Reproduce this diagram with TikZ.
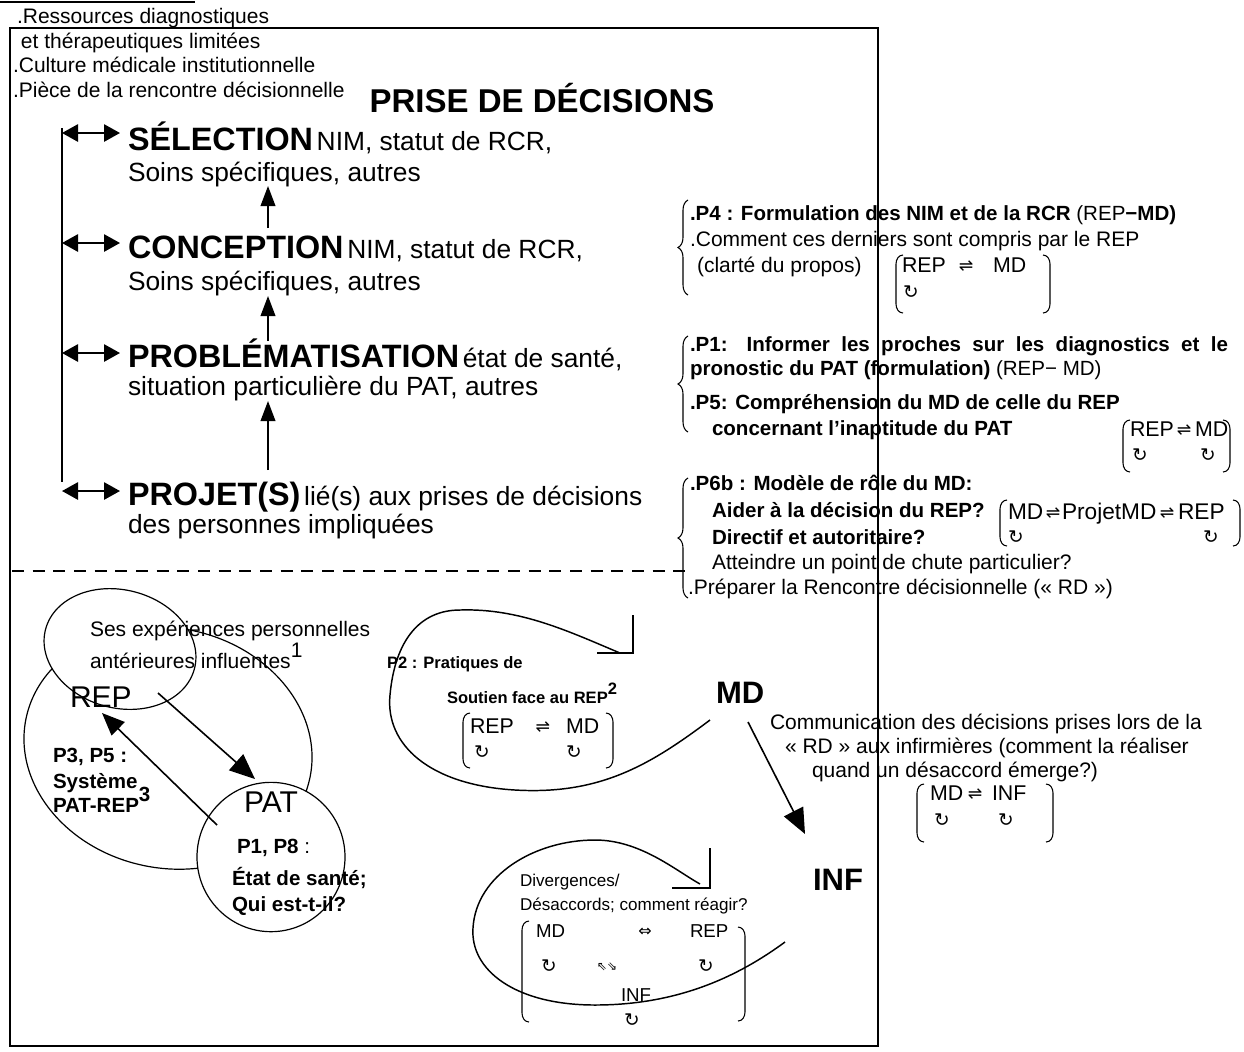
\documentclass[tikz,border=0pt]{standalone}
\usepackage{fontspec}
\setmainfont{Liberation Sans}
\newfontfamily\symfont{DejaVu Sans}
\usetikzlibrary{arrows.meta,decorations.pathreplacing}

% type sizes (1 unit of the picture = 0.75pt)
\newcommand\fTitle{\fontsize{24.75pt}{28pt}\selectfont\bfseries}
\newcommand\fLab{\fontsize{24.25pt}{27pt}\selectfont\bfseries}
\newcommand\fDesc{\fontsize{19.75pt}{23pt}\selectfont}
\newcommand\fTxt{\fontsize{15.75pt}{18pt}\selectfont}
\newcommand\fTxb{\fontsize{15.4pt}{18pt}\selectfont\bfseries}
\newcommand\fMat{\fontsize{16pt}{19pt}\selectfont}
\newcommand\fMatL{\fontsize{17pt}{20pt}\selectfont}
\newcommand\fSmb{\fontsize{12.4pt}{15pt}\selectfont\bfseries}
\newcommand\fSmr{\fontsize{12.8pt}{15pt}\selectfont}
\newcommand\fBigR{\fontsize{22.5pt}{26pt}\selectfont}
\newcommand\fBigB{\fontsize{23.25pt}{26pt}\selectfont\bfseries}
\newcommand\fMsm{\fontsize{14pt}{17pt}\selectfont}
% symbols
\newcommand\loopsym{{\symfont\fontsize{14pt}{15pt}\selectfont ↻}}
\newcommand\harp{{\symfont\fontsize{13pt}{14pt}\selectfont ⇌}}
\newcommand\supmark[1]{\raisebox{0.5em}{#1}}

% matrix brackets: x, top y, bottom y
\newcommand\bracketL[3]{\draw[brk] (#1+7,#2) to[out=180,in=90] (#1,#2+9) -- (#1,#3-9) to[out=-90,in=180] (#1+7,#3);}
\newcommand\bracketR[3]{\draw[brk] (#1-7,#2) to[out=0,in=90] (#1,#2+9) -- (#1,#3-9) to[out=-90,in=0] (#1-7,#3);}

\begin{document}
\begin{tikzpicture}[x=0.75pt,y=-0.75pt,
  every node/.style={inner sep=0pt,outer sep=0pt,anchor=base west},
  txt/.style={font=\fTxt}, txb/.style={font=\fTxb}, desc/.style={font=\fDesc},
  mat/.style={font=\fMat}, matl/.style={font=\fMatL}, smb/.style={font=\fSmb}, smr/.style={font=\fSmr},
  bigr/.style={font=\fBigR}, bigb/.style={font=\fBigB}, msm/.style={font=\fMsm},
  sym/.style={anchor=base},
  frame/.style={line width=1.9pt},
  dbl/.style={line width=1.3pt,{Triangle[length=12pt,width=13pt]}-{Triangle[length=12pt,width=13pt]}},
  up/.style={line width=1.3pt,-{Triangle[length=15pt,width=11pt]}},
  bigarrow/.style={line width=1.2pt,-{Triangle[length=19pt,width=16pt]}},
  ell/.style={line width=0.9pt},
  brk/.style={line width=0.8pt},
  brc/.style={line width=0.8pt,decorate,decoration={brace,amplitude=7.5pt}},
  bub/.style={line width=1.1pt},
]
\useasboundingbox (0,0) rectangle (1244,1051);

% ---------- frame ----------
\draw[line width=2.2pt] (0,2) -- (195,2);
\draw[frame] (10,1046) -- (10,28) -- (878,28) -- (878,1046) -- cycle;
\draw[frame, dash pattern=on 9pt off 6.5pt] (12,571) -- (690,571);

% ---------- context ----------
\node[txt] (r1) at (17,23) {.Ressources diagnostiques};
\node[txt] (r2) at (21,48) {et thérapeutiques limitées};
\node[txt] (r3) at (13,72) {.Culture médicale institutionnelle};
\node[txt] (r4) at (13,97) {.Pièce de la rencontre décisionnelle};
\node[font=\fTitle, anchor=base] (title) at (542,112) {PRISE DE DÉCISIONS};

% ---------- decision stages ----------
\node (s1) at (128,150) {{\fLab SÉLECTION} {\fDesc NIM, statut de RCR,}};
\node[desc] (s1b) at (128,181) {Soins spécifiques, autres};
\node (s2) at (128,258) {{\fLab CONCEPTION} {\fDesc NIM, statut de RCR,}};
\node[desc] (s2b) at (128,290) {Soins spécifiques, autres};
\node (s3) at (128,367) {{\fLab PROBLÉMATISATION} {\fDesc état de santé,}};
\node[desc] (s3b) at (128,395) {situation particulière du PAT, autres};
\node (s4) at (128,505) {{\fLab PROJET(S)} {\fDesc lié(s) aux prises de décisions}};
\node[desc] (s4b) at (128,533) {des personnes impliquées};

\coordinate (v1) at (62,133);
\coordinate (v2) at (62,243);
\coordinate (v3) at (62,353);
\coordinate (v4) at (62,491);
\draw[line width=1.3pt] (62,128) -- (62,482);
\foreach \v/\s in {v1/s1,v2/s2,v3/s3,v4/s4}
  \draw[dbl, shorten >=6pt] (\v) -- (\v -| \s.west);

\coordinate (u1a) at (268,228); \coordinate (u1b) at (268,186);
\coordinate (u2a) at (268,341); \coordinate (u2b) at (268,296);
\coordinate (u3a) at (268,470); \coordinate (u3b) at (268,401);
\draw[up] (u1a) -- (u1b);
\draw[up] (u2a) -- (u2b);
\draw[up] (u3a) -- (u3b);

% ---------- stage notes ----------
\draw[brc] (688,295) -- (688,200);
\node[txb] (p4) at (690,220) {.P4 : Formulation des NIM et de la RCR {\mdseries(REP}−MD)};
\node[txt] (p4b) at (690,246) {.Comment ces derniers sont compris par le REP};
\node[txt] (p4c) at (697,272) {(clarté du propos)};
\node[mat] (m1a) at (902,272) {REP};
\node[sym] (m1s) at (966,271) {\harp};
\node[mat] (m1c) at (993,272) {MD};
\node (m1b) at (903,298) {\loopsym};
\bracketL{896}{255}{313}
\bracketR{1050}{255}{313}

\draw[brc] (688,432) -- (688,336);
\node[txb] (p1) at (690,351) {\makebox[403.5pt][s]{.P1: Informer les proches sur les diagnostics et le}};
\node[txb] (p1b) at (690,375) {pronostic du PAT (formulation) {\mdseries(REP− MD)}};
\node[txb] (p5) at (690,409) {.P5: Compréhension du MD de celle du REP};
\node[txb] (p5b) at (712,435) {concernant l’inaptitude du PAT};
\node[mat] (m2a) at (1130,436) {REP};
\node[sym] (m2s) at (1184,435) {\harp};
\node[mat] (m2c) at (1195,436) {MD};
\node (m2b) at (1132,461) {\loopsym};
\node (m2d) at (1200,461) {\loopsym};
\bracketL{1123}{420}{472}
\bracketR{1230}{420}{472}

\draw[brc] (688,598) -- (688,478);
\node[txb] (p6) at (690,490) {.P6b : Modèle de rôle du MD:};
\node[txb] (p6b) at (712,517) {Aider à la décision du REP?};
\node[txb] (p6c) at (712,544) {Directif et autoritaire?};
\node[txt] (p6d) at (712,569) {Atteindre un point de chute particulier?};
\node[txt] (p6e) at (688,594) {.Préparer la Rencontre décisionnelle (« RD »)};
\node[matl] (m3a) at (1008,519) {MD};
\node[sym] (m3s1) at (1053,518) {\harp};
\node[matl] (m3b) at (1062,519) {ProjetMD};
\node[sym] (m3s2) at (1167,518) {\harp};
\node[matl] (m3c) at (1178,519) {REP};
\node (m3d) at (1008,543) {\loopsym};
\node (m3e) at (1203,543) {\loopsym};
\bracketL{1000}{500}{546}
\bracketR{1240}{500}{546}

% ---------- REP / PAT system ----------
\draw[ell, rotate around={-12:(168,748)}] (168,748) ellipse [x radius=108.75pt, y radius=90pt];
\draw[ell, fill=white, rotate around={-15:(120,649)}] (120,649) ellipse [x radius=57.75pt, y radius=44.25pt];
\draw[ell, fill=white] (271,857) ellipse [x radius=55.5pt, y radius=56pt];

\node[txt] (exp1) at (90,636) {Ses expériences personnelles};
\node[txt] (exp2) at (90,668) {antérieures influentes\supmark{1}};
\node[bigr] (rep) at (70,707) {REP};
\node[txb] (sys1) at (53,762) {P3, P5 :};
\node[txb] (sys2) at (53,788) {Système};
\node[txb] (sys3) at (53,812) {PAT-REP\supmark{3}};
\node[bigr] (pat) at (244,812) {PAT};
\node[txb] (pat1) at (237,853) {P1, P8 {\mdseries:}};
\node[txb] (pat2) at (232,885) {État de santé;};
\node[txb] (pat3) at (232,911) {Qui est-t-il?};

\coordinate (rp1) at (158,693); \coordinate (rp2) at (255,779);
\coordinate (pr1) at (217,825); \coordinate (pr2) at (102,713);
\draw[bigarrow] (rp1) -- (rp2);
\draw[line width=1.2pt,-{Triangle[length=17pt,width=14pt]}] (pr1) -- (pr2);

% ---------- MD ----------
\node[bigb] (md) at (716,703) {MD};
\draw[bub] (710,720) .. controls (650,765) and (600,795) .. (515,790)
           .. controls (430,785) and (385,745) .. (390,695)
           .. controls (395,640) and (420,610) .. (460,610)
           .. controls (520,608) and (570,632) .. (620,653);
\draw[bub] (597,653) -- (633,653) -- (633,615);
\node[smb] (p2) at (387,668) {P2 : Pratiques de};
\node[smb] (p2b) at (447,703) {Soutien face au REP\supmark{2}};
\node[mat] (m4a) at (470,733) {REP};
\node[sym] (m4s) at (543,732) {\harp};
\node[mat] (m4c) at (566,733) {MD};
\node (m4b) at (474,758) {\loopsym};
\node (m4d) at (566,758) {\loopsym};
\bracketL{463}{713}{768}
\bracketR{613}{713}{768}

\coordinate (mi1) at (748,722); \coordinate (mi2) at (805,834);
\draw[bigarrow] (mi1) -- (mi2);

\node[txt] (c1) at (770,729) {Communication des décisions prises lors de la};
\node[txt] (c2) at (785,753) {« RD » aux infirmières (comment la réaliser};
\node[txt] (c3) at (812,777) {quand un désaccord émerge?)};
\node[mat] (m5a) at (930,800) {MD};
\node[sym] (m5s) at (975,799) {\harp};
\node[mat] (m5c) at (992,800) {INF};
\node (m5b) at (934,826) {\loopsym};
\node (m5d) at (998,826) {\loopsym};
\bracketL{917}{784}{842}
\bracketR{1053}{784}{842}

% ---------- INF ----------
\node[bigb] (inf) at (813,890) {INF};
\draw[bub] (785,942) .. controls (740,975) and (680,1005) .. (595,1005)
           .. controls (515,1005) and (470,970) .. (473,928)
           .. controls (476,875) and (535,840) .. (595,840)
           .. controls (640,840) and (675,870) .. (700,884);
\draw[bub] (672,888) -- (710,888) -- (710,848);
\node[smr] (dv1) at (520,886) {Divergences/};
\node[smr] (dv2) at (520,910) {Désaccords; comment réagir?};
\node[msm] (dmd) at (536,937) {MD};
\node[sym] (dlr) at (645,936) {{\symfont\fontsize{12pt}{13pt}\selectfont ⇔}};
\node[msm] (drep) at (690,937) {REP};
\node (dc1) at (541,972) {\loopsym};
\node[sym] (dar) at (607,970) {{\symfont\fontsize{9pt}{10pt}\selectfont ⇖⇘}};
\node (dc2) at (698,972) {\loopsym};
\node[msm] (dinf) at (621,1001) {INF};
\node (dc3) at (624,1026) {\loopsym};
\bracketL{522}{921}{1022}
\bracketR{745}{927}{1021}
\end{tikzpicture}
\end{document}
